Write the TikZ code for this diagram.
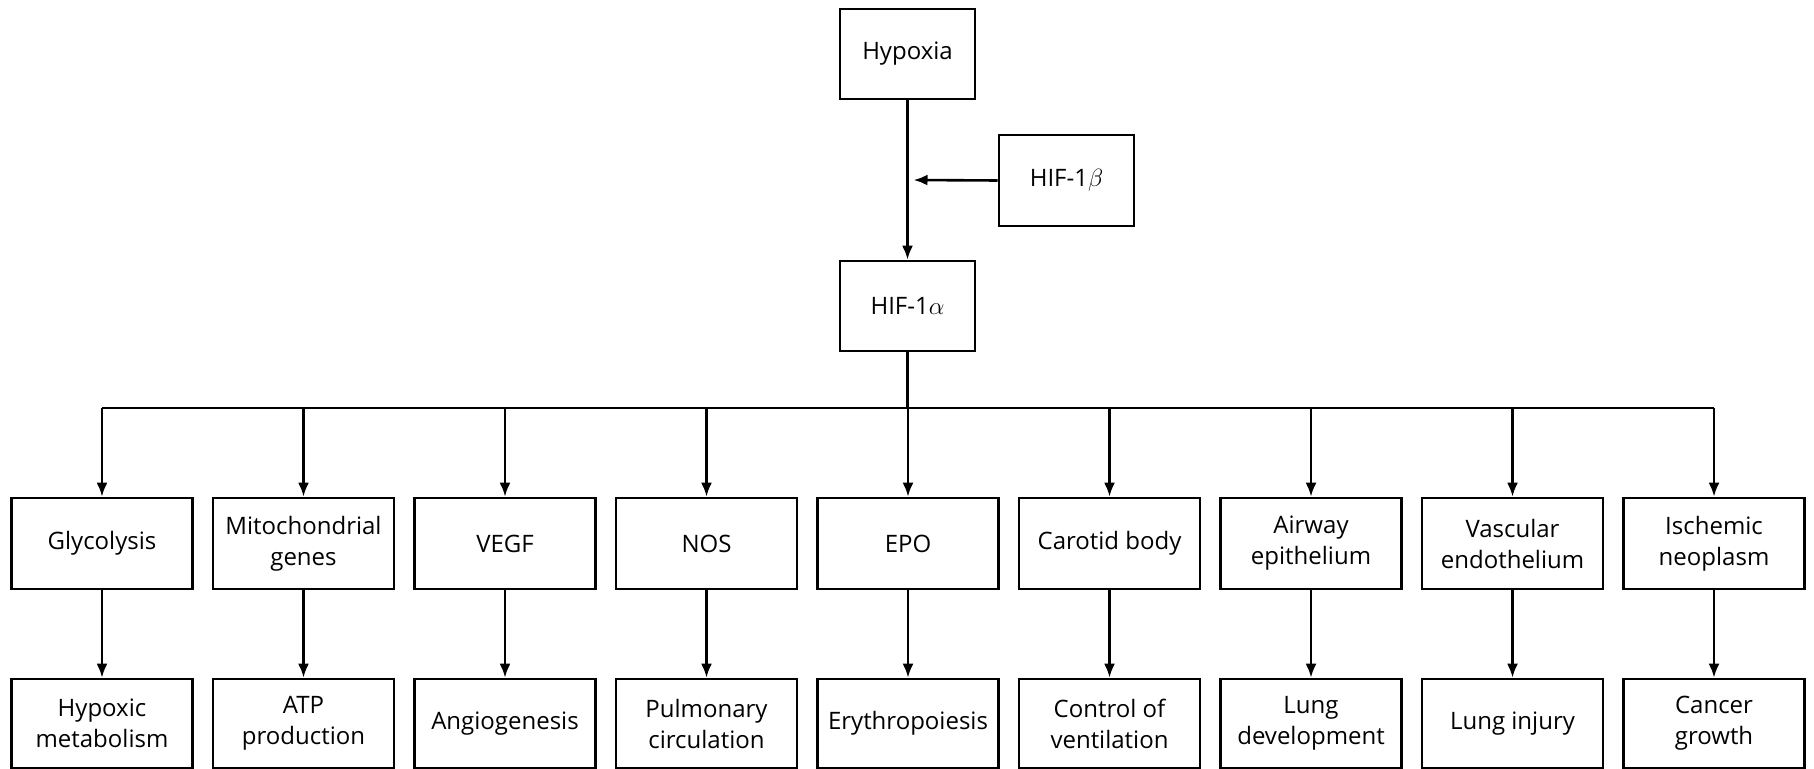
\documentclass[tikz,border=0pt]{standalone}
\usepackage{fontspec}
\setmainfont{Open Sans}
\usetikzlibrary{arrows.meta,calc}
\begin{document}
\begin{tikzpicture}[x=1pt,y=-1pt,
  box/.style={draw,line width=2.6pt,align=center,inner sep=0pt,
    font=\fontsize{24}{31}\selectfont},
  smallbox/.style={box,minimum width=135pt,minimum height=90pt},
  bigbox/.style={box,minimum width=181pt,minimum height=91pt},
  lowbox/.style={box,minimum width=181pt,minimum height=89pt},
  arr/.style={line width=2.6pt,-{Latex[length=14pt,width=11pt]}},
  ln/.style={line width=2.6pt}]
\useasboundingbox (0,0) rectangle (1814,768);
\node[smallbox] (hyp) at (907.5,54) {Hypoxia};
\node[smallbox,minimum height=91pt] (hifb) at (1066.5,180.5) {HIF-1$\beta$};
\node[smallbox] (hifa) at (907.5,306) {HIF-1$\alpha$};
\coordinate (j) at ($(hyp.south)!0.5!(hifa.north)$);
\draw[arr] (hyp.south) -- (hifa.north);
\draw[arr] (hifb.west) -- ([xshift=6pt]j);
\coordinate (bus) at (907.5,408);
\foreach \i/\t/\b in {0/Glycolysis/{Hypoxic\\metabolism},
  1/{Mitochondrial\\genes}/{ATP\\production},
  2/VEGF/Angiogenesis,
  3/NOS/{Pulmonary\\circulation},
  4/EPO/Erythropoiesis,
  5/Carotid body/{Control of\\ventilation},
  6/{Airway\\epithelium}/{Lung\\development},
  7/{Vascular\\endothelium}/Lung injury,
  8/{Ischemic\\neoplasm}/{Cancer\\growth}} {
  \node[bigbox] (t\i) at ({102+201.5*\i},543.5) {\t};
  \node[lowbox] (b\i) at ({102+201.5*\i},723.5) {\b};
  \draw[arr] (t\i.north |- bus) -- (t\i.north);
  \draw[arr] (t\i.south) -- (b\i.north);
}
\draw[ln] (hifa.south) -- (bus);
\draw[ln] (t0.north |- bus) -- (t8.north |- bus);
\end{tikzpicture}
\end{document}
